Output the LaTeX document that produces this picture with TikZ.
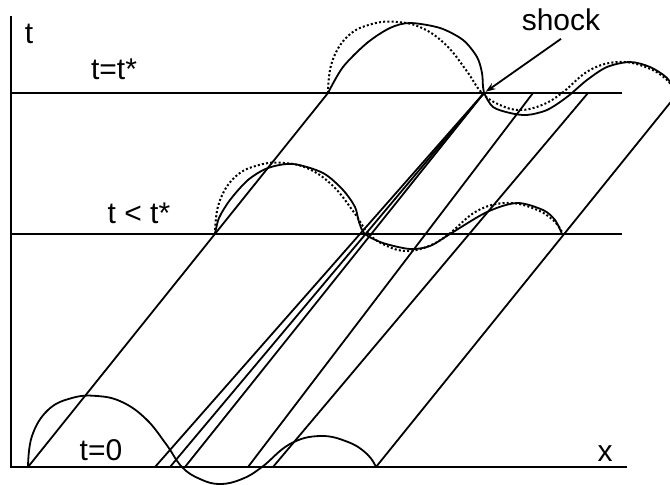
\documentclass[tikz,border=0pt]{standalone}
\usepackage{fontspec}
\setmainfont{Liberation Sans}
\usetikzlibrary{arrows.meta}

\begin{document}
\begin{tikzpicture}[>=Stealth,x=0.5pt,y=-0.5pt,line width=0.9pt,
        lbl/.style={font=\fontsize{15}{18}\selectfont,anchor=base},
        dotline/.style={line width=1pt,dash pattern=on 1pt off 1.1pt}]
        \useasboundingbox (0,0) rectangle (670,485);
        \clip (0,0) rectangle (670,485);
        % axes and time levels
        \draw [line width=1.3pt] (11,16) coordinate (T) -- (11,467) coordinate (O) -- (627,467) coordinate (X);
        \draw (11,234) -- (622,234);
        \draw (11,93) -- (622,93);
        \node [lbl] (tlab) at (29,44) {t};
        \node [lbl] (xlab) at (605,462) {x};
        \node [lbl] (t0) at (101,461) {t=0};
        \node [lbl] (t1) at (139,224) {t < t*};
        \node [lbl] (t2) at (114,80) {t=t*};
        % characteristics
        \coordinate (S) at (484,93);
        \foreach \a/\b in {28/328,248/533,273/588,376/678}
            \draw (\a,467) -- (\b,93);
        \foreach \a in {155,170,185}
            \draw (\a,467) -- (S);
        % initial profile and its translated copies
        \foreach \dx/\dy/\sty in {0/0/solid,187/-233/dotline,300/-374/dotline}
            \draw [\sty,shift={(\dx,\dy)}] plot [smooth,tension=0.7] coordinates {(28,467) (32,436) (48,410) (72,398) (97,396) (122,402) (146,419) (166,444) (182,467) (200,479) (220,484) (242,479) (262,467) (290,444) (320,436) (348,442) (367,454) (376,467)};
        % steepened profiles
        \draw plot [smooth,tension=0.5] coordinates {(215,234) (219,218) (230,200) (248,180) (268,168) (293,164) (323,173) (343,190) (355,207) (359,222) (365,234) (383,243) (410,249) (430,246) (450,234) (487,212) (517,203) (543,210) (555,220) (562,234)};
        \draw plot [smooth,tension=0.5] coordinates {(328,93) (343,67) (367,43) (390,28) (410,23) (440,28) (463,40) (477,57) (482,73) (483,87) (484,93) (493,107) (510,113) (527,115) (547,110) (567,97) (587,80) (607,67) (630,62) (650,67) (667,78) (676,93)};
        % shock
        \node [lbl] (shock) at (561,31) {shock};
        \draw [->,>={Stealth[length=5pt,width=3.5pt]},shorten >=1pt] (shock.south) -- (S);
    \end{tikzpicture}
\end{document}
